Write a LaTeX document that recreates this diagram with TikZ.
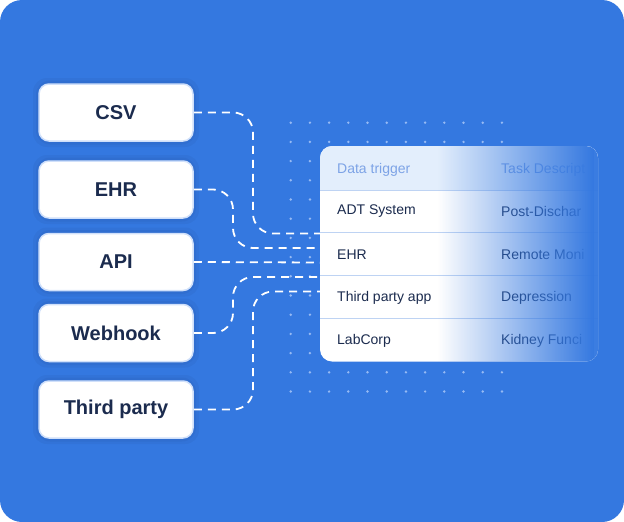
\documentclass[tikz,border=0pt]{standalone}
\usepackage{fontspec}
\setmainfont{Liberation Sans}
\usetikzlibrary{fadings}
\definecolor{bgblue}{RGB}{52,120,224}
\definecolor{navy}{RGB}{27,43,78}
\definecolor{dotc}{RGB}{150,186,244}
\definecolor{hdrbg}{RGB}{227,238,252}
\definecolor{hdrtxt}{RGB}{125,163,230}
\definecolor{sepc}{RGB}{190,211,243}
\definecolor{boxedge}{RGB}{208,224,250}
\tikzfading[name=fadeout, left color=transparent!100, right color=transparent!0]
\begin{document}
\begin{tikzpicture}[x=1pt,y=-1pt,
  srcbox/.style={fill=white, draw=boxedge, line width=1.5pt, rounded corners=10pt,
    minimum width=154pt, minimum height=57pt, inner sep=0pt, text=navy,
    font=\fontsize{20}{24}\selectfont\bfseries},
  cell/.style={anchor=west, inner sep=0pt, text=navy, font=\fontsize{14}{17}\selectfont},
  hcell/.style={cell, text=hdrtxt},
  conn/.style={draw=white, line width=1.8pt, dash pattern=on 8pt off 6pt, rounded corners=20pt},
  halo/.style={fill=black, opacity=0.035, rounded corners=14pt}]
\useasboundingbox (0,0) rectangle (624,522);
\fill[white] (0,0) rectangle (624,522);
\fill[bgblue, rounded corners=22pt] (0,0) rectangle (624,522);
% dot grid
\foreach \i in {0,...,11}
  \foreach \j in {0,...,14}
    \fill[dotc] (290.7+19.2*\i, 122.7+19.2*\j) circle (1.35pt);
% soft halos
\foreach \yy in {112.5,189.5,262,333,409.5}{
  \fill[halo] (33,\yy-34.5) rectangle (199,\yy+34.5);
  \fill[halo] (36,\yy-32) rectangle (196,\yy+32);
}
% source boxes
\node[srcbox] (csv) at (116,112.5) {CSV};
\node[srcbox] (ehr) at (116,189.5) {EHR};
\node[srcbox] (api) at (116,262) {API};
\node[srcbox] (webhook) at (116,333) {Webhook};
\node[srcbox] (third) at (116,409.5) {Third party};
% table
\node[fill=white, rounded corners=12pt, minimum width=278pt, minimum height=215.5pt, inner sep=0pt] (tbl) at (459,253.75) {};
\begin{scope}
  \clip[rounded corners=12pt] (320,146) rectangle (598,361.5);
  \fill[hdrbg] (320,146) rectangle (598,190);
  \foreach \yy in {190,232.5,275.5,318.5}
    \draw[sepc, line width=1pt] (320,\yy) -- (598,\yy);
\end{scope}
\node[hcell] (h1) at (337,170) {Data trigger};
\node[hcell] (h2) at (501,170) {Task Descript};
\node[cell] (r1a) at (337,211.5) {ADT System};
\node[cell] (r1b) at (501,211.5) {Post-Dischar};
\node[cell] (r2a) at (337,254.5) {EHR};
\node[cell] (r2b) at (501,254.5) {Remote Moni};
\node[cell] (r3a) at (337,297.5) {Third party app};
\node[cell] (r3b) at (501,297.5) {Depression};
\node[cell] (r4a) at (337,340.5) {LabCorp};
\node[cell] (r4b) at (501,340.5) {Kidney Funci};
% fade of the table into the background
\begin{scope}
  \clip[rounded corners=12pt] (320,146) rectangle (598,361.5);
  \fill[bgblue, path fading=fadeout] (438,140) rectangle (594,368);
  \fill[bgblue, opacity=0.96] (594,140) rectangle (600,368);
\end{scope}
% connector ends
\coordinate (t1) at (320,233.5);
\coordinate (t2) at (320,248);
\coordinate (t3) at (320,262.5);
\coordinate (t4) at (320,277);
\coordinate (t5) at (320,291.5);
% connectors
\draw[conn] (csv.east) -- (253,112.5) -- (253,233.5) -- (t1);
\draw[conn] (ehr.east) -- (233,189.5) -- (233,248) -- (t2);
\draw[conn] (api.east) -- (t3);
\draw[conn] (webhook.east) -- (233,333) -- (233,277) -- (t4);
\draw[conn] (third.east) -- (253,409.5) -- (253,291.5) -- (t5);
\end{tikzpicture}
\end{document}
